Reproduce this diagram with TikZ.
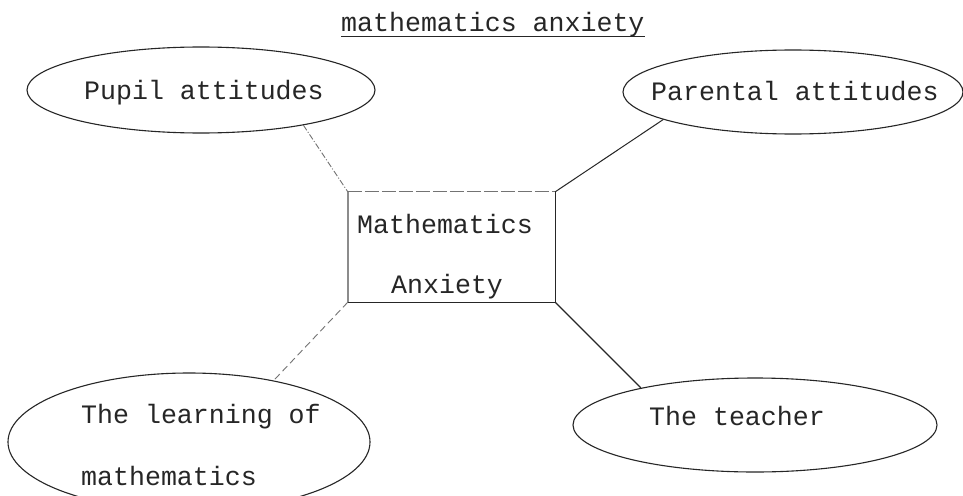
\documentclass[tikz,border=0pt]{standalone}
\usepackage{fontspec}
\newfontfamily\tw{Liberation Mono}
\usetikzlibrary{shapes.geometric}
\begin{document}
\begin{tikzpicture}[x=1pt,y=-1pt,
  bubble/.style={draw=black!85, ellipse, line width=1.1pt, inner sep=0pt},
  lbl/.style={font=\tw\fontsize{26.6}{30}\selectfont, text=black!85, inner sep=0pt, anchor=base west},
  link/.style={line width=1pt, draw=black!85},
  faint/.style={line width=0.9pt, draw=black!55}]
\useasboundingbox[fill=white] (0,0) rectangle (963,495);

% title
\node[lbl] (title) at (341,32) {mathematics anxiety};
\draw[link] (title.south west) ++(0,-1) coordinate (ul1) -- (title.south east |- ul1);

% ovals
\node[bubble, minimum width=348pt, minimum height=86pt] (pupil) at (201,90) {};
\node[bubble, minimum width=340pt, minimum height=84pt] (parental) at (793,92) {};
\node[bubble, minimum width=362pt, minimum height=138pt] (learning) at (189,442) {};
\node[bubble, minimum width=364pt, minimum height=94pt] (teacher) at (755,425) {};

% oval labels
\node[lbl] (pupilT) at (84,99) {Pupil attitudes};
\node[lbl] (parentalT) at (651,100) {Parental attitudes};
\node[lbl] (learnT1) at (81,423) {The learning of};
\node[lbl] (learnT2) at (81,485) {mathematics};
\node[lbl] (teacherT) at (649,425) {The teacher};

% central box
\node[minimum width=207pt, minimum height=110pt, inner sep=0pt] (box) at (451.5,247) {};
\draw[faint, dash pattern=on 14pt off 3pt] (box.north west) -- (box.north east);
\draw[link] (box.north east) -- (box.south east);
\draw[link, line width=1.4pt] (box.south east) -- (box.south west);
\draw[draw=black!45, line width=2.2pt] (box.south west) -- (box.north west);
\node[lbl] (boxT1) at (357,233) {Mathematics};
\node[lbl] (boxT2) at (391,293) {Anxiety};

% connectors
\draw[faint, dash pattern=on 6pt off 2pt on 1pt off 2pt] (pupil.-19.5) -- (box.north west);
\draw[link] (parental.192) -- (box.north east);
\draw[faint, dash pattern=on 7pt off 4pt] (box.south west) -- (learning.36);
\draw[link, line width=1.2pt] (box.south east) -- (teacher.162.6);
\end{tikzpicture}
\end{document}
